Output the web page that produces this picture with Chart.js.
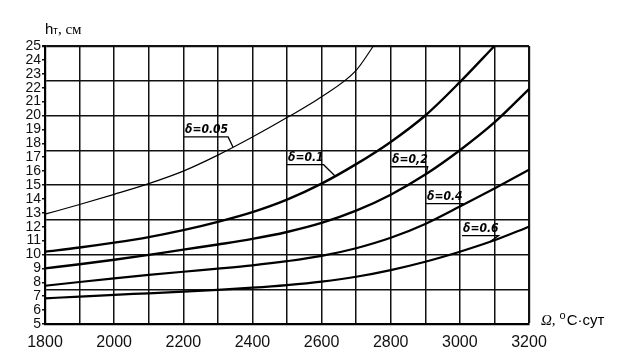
<!DOCTYPE html>
<html>
<head>
<meta charset="utf-8">
<script src="https://cdn.jsdelivr.net/npm/chart.js@4.4.0/dist/chart.umd.min.js"></script>
<style>
  html, body { margin: 0; padding: 0; background: #fff; }
  #wrap { width: 617px; height: 355px; }
</style>
</head>
<body>
<div id="wrap"><canvas id="c" width="617" height="355"></canvas></div>
<script>
// ---- data ----
const omega   = [1800, 1900, 2000, 2100, 2200, 2300, 2400, 2500, 2600, 2700, 2800, 2900, 3000, 3100, 3200];
const omega05 = [1800, 1900, 2000, 2100, 2200, 2300, 2400, 2500, 2600, 2700, 2750];
const omega01 = [1800, 1900, 2000, 2100, 2200, 2300, 2400, 2500, 2600, 2700, 2800, 2900, 3000, 3100];

const h005 = [12.9, 13.6, 14.33, 15.1, 16.0, 17.15, 18.45, 19.85, 21.35, 23.25, 25.0];
const h01  = [10.2, 10.5, 10.85, 11.25, 11.75, 12.35, 13.05, 13.95, 15.1, 16.5, 18.1, 20.0, 22.4, 25.0];
const h02  = [9.0, 9.3, 9.62, 9.97, 10.35, 10.72, 11.12, 11.62, 12.27, 13.15, 14.3, 15.75, 17.5, 19.5, 21.9];
const h04  = [7.75, 8.02, 8.28, 8.53, 8.76, 8.98, 9.22, 9.52, 9.9, 10.45, 11.2, 12.2, 13.45, 14.75, 16.1];
const h06  = [6.85, 6.97, 7.1, 7.21, 7.33, 7.46, 7.61, 7.8, 8.05, 8.4, 8.88, 9.48, 10.2, 11.02, 12.0];

const seriesNames = ['δ=0.05', 'δ=0.1', 'δ=0,2', 'δ=0.4', 'δ=0.6'];

const xTickValues  = [1800, 1900, 2000, 2100, 2200, 2300, 2400, 2500, 2600, 2700, 2800, 2900, 3000, 3100, 3200];
const xLabelValues = [1800, 2000, 2200, 2400, 2600, 2800, 3000, 3200];
const yTickValues  = [5, 6, 7, 8, 9, 10, 11, 12, 13, 14, 15, 16, 17, 18, 19, 20, 21, 22, 23, 24, 25];
const yGridValues  = [5, 7.5, 10, 12.5, 15, 17.5, 20, 22.5, 25];

// label anchors (data coordinates): text start, baseline, and leader target omega
const labelTextX  = [2205, 2503, 2804, 2905, 3009];
const labelTextY  = [18.75, 16.75, 16.6, 13.95, 11.65];
const labelTarget = [2344, 2639, 2902, 3000, 3087];

function pts(xs, ys) { return xs.map((x, i) => ({ x: x, y: ys[i] })); }

const datasets = [
  { label: seriesNames[0], data: pts(omega05, h005), borderWidth: 1.2 },
  { label: seriesNames[1], data: pts(omega01, h01),  borderWidth: 2.4 },
  { label: seriesNames[2], data: pts(omega, h02),    borderWidth: 2.4 },
  { label: seriesNames[3], data: pts(omega, h04),    borderWidth: 2.2 },
  { label: seriesNames[4], data: pts(omega, h06),    borderWidth: 2.2 }
].map(d => Object.assign(d, {
  borderColor: '#000', backgroundColor: '#000', pointRadius: 0,
  cubicInterpolationMode: 'monotone', fill: false, clip: 1
}));

function interp(data, x) {
  for (let i = 0; i < data.length - 1; i++) {
    if (x >= data[i].x && x <= data[i + 1].x) {
      const t = (x - data[i].x) / (data[i + 1].x - data[i].x);
      return data[i].y + t * (data[i + 1].y - data[i].y);
    }
  }
  return data[data.length - 1].y;
}

const annotate = {
  id: 'annotate',
  afterDatasetsDraw(chart) {
    const ctx = chart.ctx, xs = chart.scales.x, ys = chart.scales.y, ca = chart.chartArea;
    ctx.save();
    ctx.fillStyle = '#000';
    ctx.strokeStyle = '#000';
    // curve labels
    ctx.font = 'italic bold 12px "Liberation Sans Narrow", "DejaVu Sans Condensed", sans-serif';
    ctx.textBaseline = 'alphabetic';
    ctx.textAlign = 'left';
    seriesNames.forEach((name, i) => {
      const px = xs.getPixelForValue(labelTextX[i]);
      const py = ys.getPixelForValue(labelTextY[i]);
      ctx.fillText(name, px, py);
      const w = ctx.measureText(name).width;
      const uy = py + 4;
      const tx = xs.getPixelForValue(labelTarget[i]);
      const ty = ys.getPixelForValue(interp(chart.data.datasets[i].data, labelTarget[i]));
      ctx.lineWidth = 1.3;
      ctx.beginPath();
      ctx.moveTo(px - 1, uy);
      ctx.lineTo(px + w, uy);
      ctx.lineTo(tx, ty);
      ctx.stroke();
    });
    // y-axis title: hт, см
    let x = ca.left, y = ca.top - 12;
    ctx.font = '15px "Liberation Sans", Arial, sans-serif';
    ctx.fillText('h', x, y); x += ctx.measureText('h').width;
    ctx.font = '10px "Liberation Sans", Arial, sans-serif';
    ctx.fillText('т', x, y); x += ctx.measureText('т').width;
    ctx.font = '15px "Liberation Serif", "Times New Roman", serif';
    ctx.fillText(', см', x, y);
    // x-axis title: Ω, °С·сут
    x = ca.right + 12; y = ca.bottom + 1;
    ctx.font = 'italic 15px "Liberation Serif", serif';
    ctx.fillText('Ω,', x, y); x += ctx.measureText('Ω,').width + 4;
    ctx.font = '11px "Liberation Sans", Arial, sans-serif';
    ctx.fillText('o', x, y - 6); x += ctx.measureText('o').width + 1;
    ctx.font = '15px "Liberation Sans", Arial, sans-serif';
    ctx.fillText('С·сут', x, y);
    ctx.restore();
  }
};

new Chart(document.getElementById('c'), {
  type: 'line',
  data: { datasets: datasets },
  plugins: [annotate],
  options: {
    responsive: false,
    animation: false,
    events: [],
    layout: { padding: { top: 46, right: 88, left: 0, bottom: 0 } },
    plugins: { legend: { display: false }, tooltip: { enabled: false } },
    scales: {
      x: {
        type: 'linear', min: 1800, max: 3200,
        afterBuildTicks: s => { s.ticks = xTickValues.map(v => ({ value: v })); },
        afterFit: s => { s.height = 31; },
        ticks: {
          autoSkip: false, maxRotation: 0, padding: 9, color: '#111',
          font: { family: '"Liberation Sans", Arial, sans-serif', size: 16 },
          callback: v => xLabelValues.includes(v) ? String(v) : ''
        },
        grid: {
          drawTicks: false, color: '#111',
          lineWidth: c => (c.tick && c.tick.value === 3200) ? 2.2 : 1.5
        },
        border: { display: true, color: '#000', width: 2.2 }
      },
      y: {
        type: 'linear', min: 5, max: 25,
        afterBuildTicks: s => {
          const all = Array.from(new Set(yTickValues.concat(yGridValues))).sort((a, b) => a - b);
          s.ticks = all.map(v => ({ value: v }));
        },
        afterFit: s => { s.width = 45; },
        ticks: {
          autoSkip: false, padding: 1, color: '#111',
          font: { family: '"Liberation Sans", Arial, sans-serif', size: 14 },
          callback: v => yTickValues.includes(v) ? String(v) : ''
        },
        grid: {
          drawTicks: true, tickLength: 3,
          color: c => (c.tick && yGridValues.includes(c.tick.value)) ? '#111' : 'rgba(0,0,0,0)',
          tickColor: c => (c.tick && yTickValues.includes(c.tick.value)) ? '#111' : 'rgba(0,0,0,0)',
          lineWidth: c => (c.tick && c.tick.value === 25) ? 2.2 : 1.5
        },
        border: { display: true, color: '#000', width: 2.2 }
      }
    }
  }
});
</script>
</body>
</html>
